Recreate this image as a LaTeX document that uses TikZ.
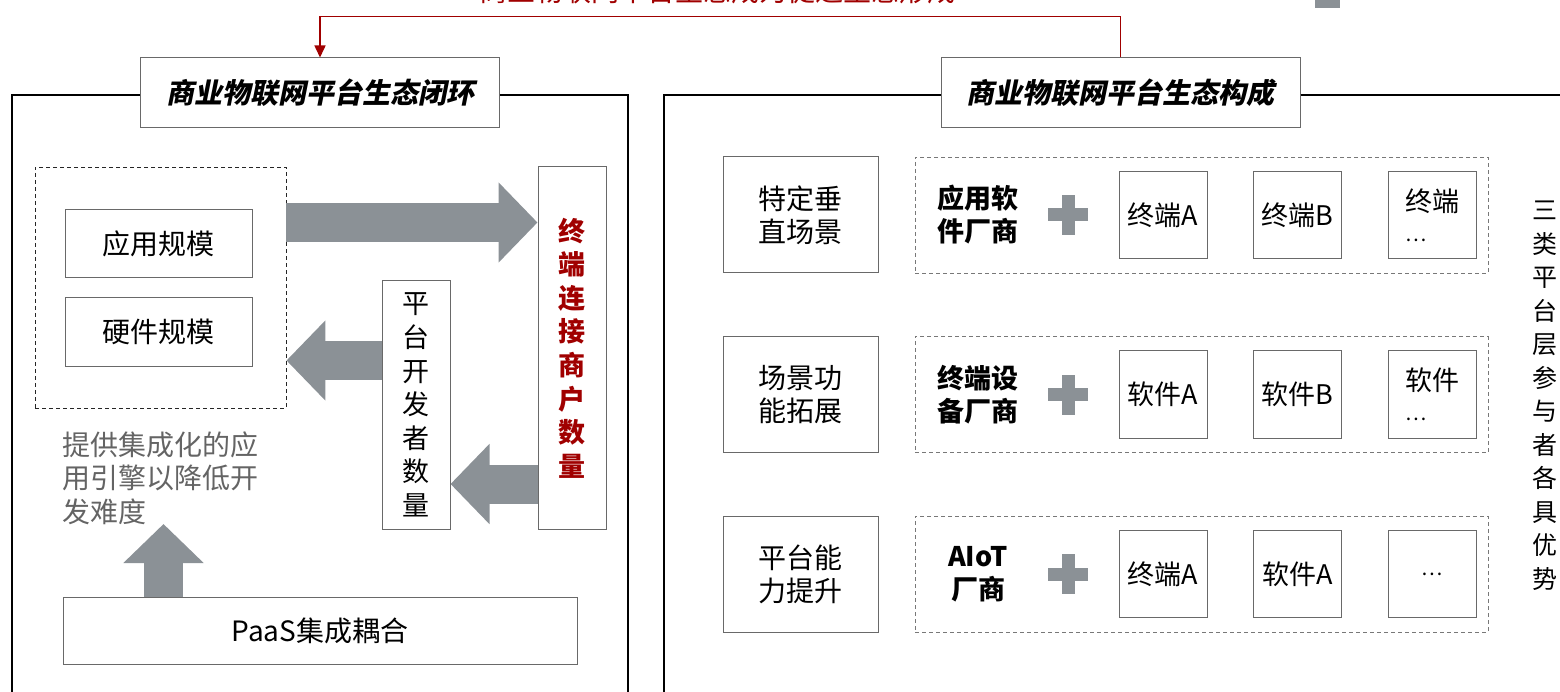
\documentclass[tikz,border=0pt]{standalone}
\usepackage{fontspec}
\setmainfont{Noto Sans CJK SC}
\newfontfamily\slantfont{Noto Sans CJK SC}[FakeSlant=0.2]
\usetikzlibrary{arrows.meta,calc}
\definecolor{agray}{RGB}{139,145,150}
\definecolor{dred}{RGB}{160,0,0}
\definecolor{bgray}{RGB}{105,105,105}
\definecolor{tgray}{RGB}{100,100,100}
\definecolor{dgray}{RGB}{120,120,120}
\newcommand\myfs[2]{\fontsize{#1}{#2}\selectfont}
\newcommand\dotsmall{{\myfs{20}{30}…}}
\tikzset{
  frameline/.style={line width=2pt, black},
  titlebox/.style={draw=bgray, line width=1pt, fill=white, minimum width=359pt, minimum height=70pt, inner sep=0pt, font=\slantfont\bfseries\myfs{28}{34}},
  plainbox/.style={draw=bgray, line width=1pt, inner sep=0pt, align=center, font=\myfs{28}{33}},
  dashbox/.style={draw=black!85, dash pattern=on 4pt off 3pt, line width=0.9pt, inner sep=0pt},
  rdashbox/.style={draw=dgray, dash pattern=on 4pt off 3pt, line width=0.9pt, inner sep=0pt, minimum width=573pt, minimum height=116pt},
  labbox/.style={plainbox, minimum width=155pt, minimum height=116pt},
  vendor/.style={font=\bfseries\myfs{27}{33}, align=center, inner sep=0pt},
  itembox/.style={plainbox, minimum width=88pt, minimum height=87pt, font=\myfs{27}{30}},
  bigarrow/.style={agray, line width=39pt, -{Triangle[length=39pt,width=78pt]}},
  redarrow/.style={dred, line width=1.5pt, -{Triangle[length=12pt,width=11pt]}},
}
\begin{document}
\begin{tikzpicture}[x=1pt,y=-1pt]
\useasboundingbox (0,0) rectangle (1560,692);
\clip (0,0) rectangle (1560,692);

% top cut-off text and legend mark
\node[anchor=base, text=dred, font=\myfs{28}{34}, inner sep=0pt] (toptext) at (717,2) {商业物联网平台生态成为促进生态形成};
\node[fill=agray, minimum width=25pt, minimum height=16pt, inner sep=0pt] (legend) at (1327.5,0) {};

% titles
\node[titlebox] (t1) at (320,93) {商业物联网平台生态闭环};
\node[titlebox] (t2) at (1120.5,93) {商业物联网平台生态构成};

% frames
\draw[frameline] (t1.west |- 0,95) -- (12,95) -- (12,700);
\draw[frameline] (t1.east |- 0,95) -- (628,95) -- (628,700);
\draw[frameline] (t2.west |- 0,95) -- (664,95) -- (664,700);
\draw[frameline] (t2.east |- 0,95) -- (1570,95);

% red connector
\draw[redarrow] (t2.north) |- ($(t1.north)+(0,-41)$) -- (t1.north);

% left panel
\node[dashbox, minimum width=251pt, minimum height=241pt] (dash) at (160.5,287.5) {};
\node[plainbox, minimum width=187pt, minimum height=68pt] (app) at (158.5,244) {应用规模};
\node[plainbox, minimum width=187pt, minimum height=68pt] (hw) at (158.5,332) {硬件规模};
\node[plainbox, minimum width=68pt, minimum height=362pt, text=dred, font=\bfseries\myfs{27}{33.6}] (term) at (572,348) {终\\端\\连\\接\\商\\户\\数\\量};
\node[plainbox, minimum width=68pt, minimum height=248pt, font=\myfs{27}{33.6}] (plat) at (416,405) {平\\台\\开\\发\\者\\数\\量};
\node[anchor=west, align=left, text=tgray, font=\myfs{28}{33.5}, inner sep=0pt] (engine) at (62,478) {提供集成化的应\\用引擎以降低开\\发难度};
\node[plainbox, minimum width=514pt, minimum height=67pt] (paas) at (320,630.5) {PaaS集成耦合};

\coordinate (ya) at (0,222.5);
\draw[bigarrow] (dash.east |- ya) -- (term.west |- ya);
\coordinate (yb) at (0,360.5);
\draw[bigarrow] (plat.west |- yb) -- (dash.east |- yb);
\coordinate (yc) at (0,484);
\draw[bigarrow] (term.west |- yc) -- (plat.east |- yc);
\coordinate (uptip) at (163.5,524);
\draw[bigarrow] (paas.north -| uptip) -- (uptip);

% right panel
\foreach \r/\yy/\lab/\ven/\ia/\ib/\ic in {
  1/215/{特定垂\\直场景}/{应用软\\件厂商}/{终端A}/{终端B}/{终端\\\dotsmall},
  2/394.5/{场景功\\能拓展}/{终端设\\备厂商}/{软件A}/{软件B}/{软件\\\dotsmall},
  3/574/{平台能\\力提升}/{AIoT\\厂商}/{终端A}/{软件A}/{\dotsmall}}{
  \node[labbox] (lab\r) at (800.5,\yy) {\lab};
  \node[rdashbox] (grp\r) at (1201.5,\yy) {};
  \node[vendor] (ven\r) at (978,\yy) {\ven};
  \coordinate (plus\r) at (1068,\yy);
  \fill[agray] ($(plus\r)+(-20,-6.5)$) rectangle ($(plus\r)+(20,6.5)$);
  \fill[agray] ($(plus\r)+(-6.5,-20)$) rectangle ($(plus\r)+(6.5,20)$);
  \node[itembox] (ia\r) at (1163,\yy) {\ia};
  \node[itembox] (ib\r) at (1297.5,\yy) {\ib};
  \node[itembox, align=left] (ic\r) at (1432,\yy) {\ic};
}
\node[font=\myfs{25}{33.5}, align=center, inner sep=0pt] (side) at (1545,395.5) {三\\类\\平\\台\\层\\参\\与\\者\\各\\具\\优\\势};
\end{tikzpicture}
\end{document}
